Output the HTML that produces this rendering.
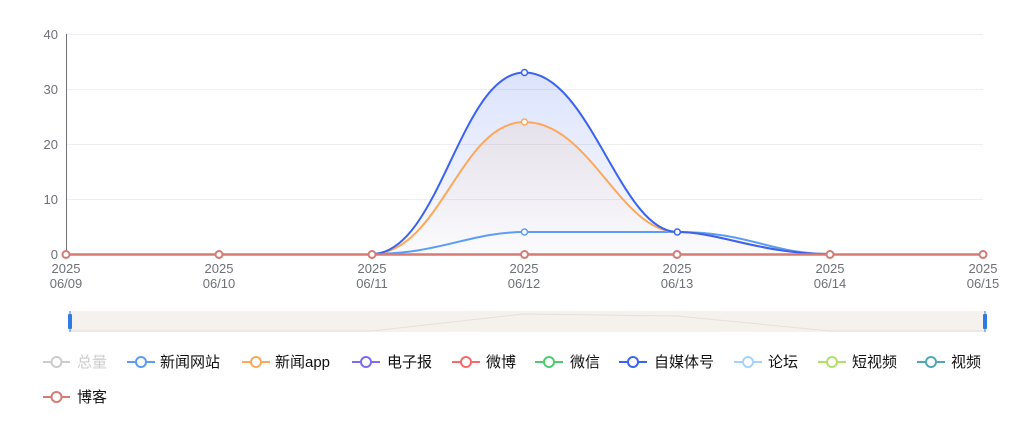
<!DOCTYPE html>
<html><head><meta charset="utf-8"><style>
body{margin:0;background:#fff;width:1024px;height:427px;overflow:hidden}
svg text{font-family:"Liberation Sans","Noto Sans CJK SC",sans-serif}
</style></head><body>
<svg width="1024" height="427" viewBox="0 0 1024 427">
<defs>
<linearGradient id="g1" x1="0" y1="0" x2="0" y2="1"><stop offset="0" stop-color="#3b63f0" stop-opacity="0.18"/><stop offset="1" stop-color="#3b63f0" stop-opacity="0.02"/></linearGradient>
<linearGradient id="g2" x1="0" y1="0" x2="0" y2="1"><stop offset="0" stop-color="#f0a060" stop-opacity="0.12"/><stop offset="1" stop-color="#f0a060" stop-opacity="0.01"/></linearGradient>
</defs>
<g stroke="#eee" stroke-width="1">
<line x1="66" x2="983" y1="34.5" y2="34.5"/><line x1="66" x2="983" y1="89.5" y2="89.5"/><line x1="66" x2="983" y1="144.5" y2="144.5"/><line x1="66" x2="983" y1="199.5" y2="199.5"/>
</g>
<line x1="66.5" y1="34" x2="66.5" y2="254" stroke="#6e7079"/>
<g font-size="13" fill="#6e7079" text-anchor="end">
<text x="58" y="39">40</text><text x="58" y="94">30</text><text x="58" y="149">20</text><text x="58" y="204">10</text><text x="58" y="259">0</text>
</g>
<g font-size="13" fill="#6e7079" text-anchor="middle">
<text x="66" y="273">2025</text><text x="66" y="288">06/09</text>
<text x="219" y="273">2025</text><text x="219" y="288">06/10</text>
<text x="372" y="273">2025</text><text x="372" y="288">06/11</text>
<text x="524" y="273">2025</text><text x="524" y="288">06/12</text>
<text x="677" y="273">2025</text><text x="677" y="288">06/13</text>
<text x="830" y="273">2025</text><text x="830" y="288">06/14</text>
<text x="983" y="273">2025</text><text x="983" y="288">06/15</text>
</g>
<path d="M371.7,254 C440,254 460,72.5 524.5,72.5 C590,72.5 620,232 677.3,232 C720,232 760,254 830.2,254 Z" fill="url(#g1)"/>
<path d="M371.7,254 C440,254 460,122 524.5,122 C590,122 620,232 677.3,232 C720,232 760,254 830.2,254 Z" fill="url(#g2)"/>
<path d="M371.7,254 C440,254 470,232 524.5,232 L677.3,232 C750,232 770,254 830.2,254" fill="none" stroke="#5b9cf8" stroke-width="2"/>
<path d="M371.7,254 C440,254 460,122 524.5,122 C590,122 620,232 677.3,232 C720,232 760,254 830.2,254" fill="none" stroke="#fba85b" stroke-width="2"/>
<path d="M371.7,254 C440,254 460,72.5 524.5,72.5 C590,72.5 620,232 677.3,232 C720,232 760,254 830.2,254" fill="none" stroke="#3b63f0" stroke-width="2"/>
<g fill="#fff" stroke-width="1.5">
<circle cx="524.5" cy="232" r="3" stroke="#5b9cf8"/>
<circle cx="524.5" cy="122" r="3" stroke="#fba85b"/>
<circle cx="524.5" cy="72.5" r="3" stroke="#3b63f0"/>
<circle cx="677.3" cy="232" r="3" stroke="#3b63f0"/>
</g>
<line x1="66" y1="254.5" x2="983" y2="254.5" stroke="#d57b74" stroke-width="2.5"/>
<g fill="#fff" stroke="#d57b74" stroke-width="2">
<circle cx="66" cy="254.5" r="3.5"/><circle cx="219" cy="254.5" r="3.5"/><circle cx="372" cy="254.5" r="3.5"/><circle cx="524.5" cy="254.5" r="3.5"/><circle cx="677" cy="254.5" r="3.5"/><circle cx="830" cy="254.5" r="3.5"/><circle cx="983" cy="254.5" r="3.5"/>
</g>
<rect x="70" y="311" width="915" height="21" fill="#f5f1ec"/>
<path d="M70,331 L372,331 L524,314 L677,316 L830,331 L985,331" fill="none" stroke="#e6e0d8" stroke-width="1"/>
<rect x="68" y="314" width="4" height="15" rx="1" fill="#2f7ae5"/><line x1="70" y1="311" x2="70" y2="332" stroke="#2f7ae5"/>
<rect x="983" y="314" width="4" height="15" rx="1" fill="#2f7ae5"/><line x1="985" y1="311" x2="985" y2="332" stroke="#2f7ae5"/>
<g font-size="15" fill="#111" stroke-width="2">
<g transform="translate(43,362)"><line x1="0" x2="27" stroke="#ccc"/><circle cx="13.5" r="5" fill="#fff" stroke="#ccc"/><text x="34" y="5" fill="#ccc" stroke="none">总量</text></g>
<g transform="translate(127,362)"><line x1="0" x2="28" stroke="#5b9cf8"/><circle cx="14" r="5" fill="#fff" stroke="#5b9cf8"/><text x="33" y="5" stroke="none">新闻网站</text></g>
<g transform="translate(242,362)"><line x1="0" x2="28" stroke="#fba85b"/><circle cx="14" r="5" fill="#fff" stroke="#fba85b"/><text x="33" y="5" stroke="none">新闻app</text></g>
<g transform="translate(352,362)"><line x1="0" x2="28" stroke="#7b6cf6"/><circle cx="14" r="5" fill="#fff" stroke="#7b6cf6"/><text x="35" y="5" stroke="none">电子报</text></g>
<g transform="translate(452,362)"><line x1="0" x2="28" stroke="#f56b6b"/><circle cx="14" r="5" fill="#fff" stroke="#f56b6b"/><text x="34" y="5" stroke="none">微博</text></g>
<g transform="translate(535,362)"><line x1="0" x2="28" stroke="#4ccb73"/><circle cx="14" r="5" fill="#fff" stroke="#4ccb73"/><text x="35" y="5" stroke="none">微信</text></g>
<g transform="translate(619,362)"><line x1="0" x2="28" stroke="#3b63f0"/><circle cx="14" r="5" fill="#fff" stroke="#3b63f0"/><text x="35" y="5" stroke="none">自媒体号</text></g>
<g transform="translate(734,362)"><line x1="0" x2="28" stroke="#a6d3fb"/><circle cx="14" r="5" fill="#fff" stroke="#a6d3fb"/><text x="34" y="5" stroke="none">论坛</text></g>
<g transform="translate(818,362)"><line x1="0" x2="28" stroke="#b0e06a"/><circle cx="14" r="5" fill="#fff" stroke="#b0e06a"/><text x="34" y="5" stroke="none">短视频</text></g>
<g transform="translate(917,362)"><line x1="0" x2="28" stroke="#4fa8b5"/><circle cx="14" r="5" fill="#fff" stroke="#4fa8b5"/><text x="34" y="5" stroke="none">视频</text></g>
<g transform="translate(43,397)"><line x1="0" x2="27" stroke="#d57b74"/><circle cx="13.5" r="5" fill="#fff" stroke="#d57b74"/><text x="34" y="5" stroke="none">博客</text></g>
</g>
</svg>
</body></html>
